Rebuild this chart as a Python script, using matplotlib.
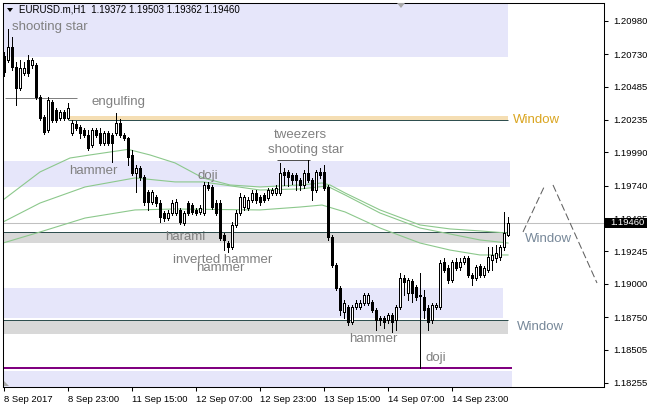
import matplotlib
matplotlib.use('Agg')
import matplotlib.pyplot as plt
from matplotlib.patches import Rectangle, Polygon
from matplotlib.transforms import blended_transform_factory

# ---------------- data (EURUSD H1) ----------------
opens = [
1.20716,1.20686,1.20784,1.20633,1.20475,1.20588,1.20686,1.20649,1.20649,1.20408,
1.20257,1.20159,1.20370,1.20310,1.20249,1.20295,1.20249,1.20137,1.20204,1.20182,
1.20159,1.20121,1.20046,1.20159,1.20137,1.20061,1.20137,1.20121,1.20137,1.20212,
1.20121,1.20099,1.19971,1.19835,1.19873,1.19805,1.19692,1.19617,1.19655,1.19609,
1.19534,1.19496,1.19534,1.19534,1.19557,1.19459,1.19609,1.19594,1.19557,1.19542,
1.19534,1.19745,1.19730,1.19609,1.19609,1.19368,1.19308,1.19278,1.19444,1.19534,
1.19579,1.19572,1.19632,1.19685,1.19655,1.19670,1.19647,1.19685,1.19685,1.19685,
1.19843,1.19843,1.19820,1.19820,1.19783,1.19745,1.19835,1.19783,1.19707,1.19843,
1.19843,1.19730,1.19353,1.19143,1.18969,1.18789,1.18826,1.18713,1.18826,1.18826,
1.18856,1.18856,1.18864,1.18804,1.18743,1.18743,1.18728,1.18766,1.18728,1.18826,
1.19045,1.18932,1.19022,1.18977,1.18917,1.18902,1.18819,1.18728,1.18826,1.18826,
1.19165,1.19120,1.19030,1.19165,1.19127,1.19165,1.19195,1.19067,1.19045,1.19135,
1.19067,1.19105,1.19180,1.19195,1.19203,1.19278,1.19372]
highs = [
1.20746,1.20920,1.20859,1.20671,1.20686,1.20671,1.20724,1.20701,1.20664,1.20423,
1.20272,1.20408,1.20385,1.20325,1.20310,1.20310,1.20362,1.20234,1.20227,1.20197,
1.20174,1.20159,1.20174,1.20174,1.20174,1.20152,1.20152,1.20137,1.20287,1.20242,
1.20137,1.20106,1.20006,1.19896,1.19888,1.19820,1.19707,1.19707,1.19670,1.19632,
1.19549,1.19557,1.19632,1.19640,1.19572,1.19549,1.19624,1.19609,1.19572,1.19594,
1.19768,1.19768,1.19745,1.19632,1.19632,1.19384,1.19323,1.19466,1.19557,1.19685,
1.19670,1.19655,1.19707,1.19707,1.19670,1.19685,1.19722,1.19722,1.19745,1.19911,
1.19873,1.19858,1.19835,1.19835,1.19798,1.19858,1.19933,1.19798,1.19858,1.19873,
1.19896,1.19745,1.19368,1.19158,1.18984,1.18879,1.18841,1.18841,1.18879,1.18879,
1.18932,1.18932,1.18879,1.18819,1.18759,1.18759,1.18781,1.18781,1.18841,1.19082,
1.19067,1.19045,1.19037,1.18992,1.19082,1.18954,1.18841,1.18856,1.18856,1.19180,
1.19195,1.19143,1.19180,1.19195,1.19195,1.19210,1.19210,1.19082,1.19143,1.19150,
1.19135,1.19278,1.19278,1.19293,1.19293,1.19542,1.19503]
lows = [
1.20566,1.20671,1.20611,1.20347,1.20460,1.20573,1.20566,1.20626,1.20393,1.20234,
1.20129,1.20144,1.20219,1.20219,1.20234,1.20234,1.20242,1.20121,1.20159,1.20099,
1.20106,1.20006,1.20031,1.20106,1.20046,1.20046,1.20046,1.19918,1.20121,1.20106,
1.20084,1.19896,1.19820,1.19692,1.19783,1.19594,1.19557,1.19602,1.19587,1.19466,
1.19474,1.19481,1.19519,1.19519,1.19451,1.19444,1.19519,1.19527,1.19519,1.19527,
1.19519,1.19707,1.19564,1.19519,1.19331,1.19255,1.19240,1.19263,1.19429,1.19519,
1.19557,1.19557,1.19617,1.19609,1.19594,1.19617,1.19632,1.19670,1.19670,1.19670,
1.19745,1.19737,1.19752,1.19707,1.19707,1.19722,1.19768,1.19632,1.19692,1.19798,
1.19707,1.19331,1.19127,1.18954,1.18766,1.18743,1.18691,1.18698,1.18811,1.18811,
1.18841,1.18841,1.18789,1.18653,1.18691,1.18668,1.18706,1.18638,1.18653,1.18811,
1.18917,1.18879,1.18864,1.18879,1.18367,1.18743,1.18653,1.18706,1.18811,1.18811,
1.19090,1.19007,1.19015,1.19105,1.19105,1.19150,1.19052,1.18992,1.19030,1.19052,
1.19052,1.19090,1.19105,1.19165,1.19180,1.19255,1.19362]
closes = [
1.20596,1.20784,1.20633,1.20475,1.20626,1.20626,1.20588,1.20686,1.20408,1.20249,
1.20144,1.20385,1.20234,1.20234,1.20295,1.20249,1.20325,1.20212,1.20174,1.20137,
1.20121,1.20024,1.20159,1.20121,1.20061,1.20137,1.20061,1.20061,1.20212,1.20121,
1.20099,1.19956,1.19835,1.19873,1.19805,1.19617,1.19617,1.19692,1.19609,1.19504,
1.19496,1.19534,1.19609,1.19617,1.19466,1.19534,1.19534,1.19542,1.19534,1.19572,
1.19745,1.19722,1.19579,1.19534,1.19346,1.19331,1.19278,1.19444,1.19534,1.19655,
1.19655,1.19632,1.19685,1.19632,1.19617,1.19632,1.19707,1.19707,1.19722,1.19835,
1.19820,1.19805,1.19783,1.19783,1.19745,1.19835,1.19783,1.19707,1.19843,1.19820,
1.19722,1.19353,1.19143,1.18969,1.18804,1.18856,1.18713,1.18826,1.18856,1.18856,
1.18917,1.18917,1.18804,1.18728,1.18728,1.18713,1.18766,1.18713,1.18826,1.19045,
1.19015,1.19030,1.18932,1.18902,1.18909,1.18804,1.18713,1.18841,1.18841,1.19158,
1.19105,1.19030,1.19165,1.19120,1.19165,1.19195,1.19067,1.19045,1.19127,1.19067,
1.19120,1.19203,1.19218,1.19233,1.19278,1.19384,1.19460]

# moving averages (bar index, price)
ma1_x = [-0.25, 9, 16.5, 21.5, 31, 36.5, 42.75, 49.75, 56.5, 64, 74, 79.5, 81.5, 85.25, 94, 104, 111.5, 119, 126]
ma1_y = [1.19632, 1.19843, 1.19948, 1.19971, 1.20013, 1.19971, 1.19911, 1.19798, 1.19745, 1.19730,
         1.19745, 1.19760, 1.19745, 1.19685, 1.19557, 1.19444, 1.19414, 1.19399, 1.19383]
ma2_x = [-0.25, 9, 20.25, 32.75, 42.75, 49.75, 64, 74, 80.75, 85.25, 94, 104, 111.5, 119, 126]
ma2_y = [1.19466, 1.19609, 1.19730, 1.19798, 1.19768, 1.19768, 1.19707, 1.19715, 1.19737, 1.19670,
         1.19534, 1.19421, 1.19376, 1.19331, 1.19308]
ma3_x = [-0.25, 9, 20.25, 32.75, 42.75, 64, 74, 79.5, 85.25, 94, 104, 111.5, 119, 126]
ma3_y = [1.19308, 1.19391, 1.19496, 1.19557, 1.19564, 1.19557, 1.19579, 1.19594, 1.19542, 1.19421,
         1.19308, 1.19255, 1.19218, 1.19218]

tick_bars = [0, 16, 32, 48, 64, 80, 96, 112]
tick_labels = ['8 Sep 2017', '8 Sep 23:00', '11 Sep 15:00', '12 Sep 07:00',
               '12 Sep 23:00', '13 Sep 15:00', '14 Sep 07:00', '14 Sep 23:00']
price_ticks = [1.20980, 1.20730, 1.20485, 1.20235, 1.19990, 1.19740, 1.19495,
               1.19245, 1.19000, 1.18750, 1.18505, 1.18255]

# zones: (bar_start, bar_end, price_low, price_high, kind)
zones = [
    (-1, 126.0, 1.20709, 1.21300, 'lav'),
    (-1, 126.5, 1.19730, 1.19926, 'lav'),
    (-1, 125.5, 1.19308, 1.19391, 'gray'),
    (-1, 124.75, 1.18743, 1.18969, 'lav'),
    (-1, 126.0, 1.18623, 1.18728, 'gray'),
    (-1, 127.0, 1.18100, 1.18344, 'lav'),
    (16, 126.0, 1.20234, 1.20265, 'wheat'),
]
# window / level lines: (bar_start, bar_end, price, color, width)
levels = [
    (16, 126.0, 1.20234, '#2F4F4F', 1.0),
    (-1, 126.0, 1.19391, '#2F4F4F', 1.0),
    (-1, 126.0, 1.18728, '#2F4F4F', 1.0),
    (-1, 127.0, 1.18367, '#800080', 2.0),
    (0.25, 18.25, 1.20400, '#808080', 1.0),
    (68.25, 76.5, 1.19933, '#505050', 1.0),
]
# projection zig-zag (dashed)
proj1_x = [129.75, 135.25]
proj1_y = [1.19391, 1.19745]
proj2_x = [137.25, 148.25]
proj2_y = [1.19745, 1.19007]

# pattern labels: (text, bar_x, price, color)
labels = [
    ('shooting star', 2.0, 1.20935, '#808080'),
    ('engulfing', 22.0, 1.20370, '#808080'),
    ('hammer', 16.25, 1.19850, '#808080'),
    ('doji', 48.5, 1.19813, '#808080'),
    ('tweezers', 67.5, 1.20121, '#808080'),
    ('shooting star', 66.0, 1.20009, '#808080'),
    ('harami', 40.25, 1.19353, '#808080'),
    ('inverted hammer', 42.25, 1.19180, '#808080'),
    ('hammer', 48.0, 1.19120, '#808080'),
    ('hammer', 86.25, 1.18585, '#808080'),
    ('doji', 105.5, 1.18442, '#808080'),
    ('Window', 127.25, 1.20234, '#DAA520'),
    ('Window', 130.25, 1.19338, '#778899'),
    ('Window', 128.25, 1.18676, '#778899'),
]

W, H = 647, 408
fig = plt.figure(figsize=(W / 100, H / 100), dpi=100)
fig.patch.set_facecolor('white')
ax = fig.add_axes([3 / W, (H - 387) / H, 601 / W, 384 / H])
ax.set_facecolor('white')
ax.set_xlim(-0.25, 150)
ax.set_ylim(1.18224, 1.21115)

colors = {'lav': '#E6E6FA', 'gray': '#D8D8D8', 'wheat': '#F5DEB3'}
for x0, x1, p0, p1, k in zones:
    ax.add_patch(Rectangle((x0, p0), x1 - x0, p1 - p0, facecolor=colors[k],
                           edgecolor='none', zorder=0))

# current price line
last = closes[-1]
ax.axhline(last, color='#C0C0C0', lw=0.75, zorder=1)

for x0, x1, p, c, w in levels:
    ax.plot([x0, x1], [p, p], color=c, lw=w * 0.72, zorder=1.5, solid_capstyle='butt')

# moving averages
ma_col = '#8CC88C'
for mx, my in ((ma1_x, ma1_y), (ma2_x, ma2_y), (ma3_x, ma3_y)):
    ax.plot(mx, my, color=ma_col, lw=0.8, zorder=2)

# candles
n = min(len(opens), len(highs), len(lows), len(closes))
bw = 0.5
for i in range(n):
    o, h, l, c = opens[i], highs[i], lows[i], closes[i]
    ax.plot([i, i], [l, h], color='black', lw=0.72, zorder=3, antialiased=False,
            solid_capstyle='butt')
    lo, hi = min(o, c), max(o, c)
    if hi - lo < 0.00006:
        ax.plot([i - bw / 2, i + bw / 2], [c, c], color='black', lw=0.72, zorder=4,
                antialiased=False, solid_capstyle='butt')
    else:
        ax.add_patch(Rectangle((i - bw / 2, lo), bw, hi - lo,
                               facecolor='white' if c >= o else 'black',
                               edgecolor='black', lw=0.6, zorder=4, antialiased=False))

# projection dashed lines
for px, py in ((proj1_x, proj1_y), (proj2_x, proj2_y)):
    ax.plot(px, py, color='#606060', lw=0.75, ls=(0, (7, 3)), zorder=2)

# labels
for t, bx, p, c in labels:
    ax.text(bx, p, t, color=c, fontsize=9.5, family='Liberation Sans',
            ha='left', va='center', zorder=5)

# axes styling
for s in ax.spines.values():
    s.set_color('black')
    s.set_linewidth(0.75)
ax.yaxis.tick_right()
ax.set_yticks(price_ticks)
ax.set_yticklabels(['%.5f' % p for p in price_ticks])
ax.set_xticks(tick_bars)
ax.set_xticklabels(tick_labels)
ax.tick_params(axis='y', which='both', length=3, width=0.75, pad=4, labelsize=6.8,
               colors='black', left=False, right=True)
ax.tick_params(axis='x', which='both', length=3, width=0.75, pad=2.5, labelsize=6.8,
               colors='black', top=False, bottom=True)
for lbl in ax.get_xticklabels():
    lbl.set_ha('left')
    lbl.set_family('Liberation Sans')
for lbl in ax.get_yticklabels():
    lbl.set_family('Liberation Sans')

# current price box on the axis
bt = blended_transform_factory(fig.transFigure, ax.transData)
half = 5 * (ax.get_ylim()[1] - ax.get_ylim()[0]) / 384
ax.add_patch(Rectangle((605 / W, last - half), 42 / W, 2 * half, transform=bt,
                       facecolor='black', edgecolor='none', clip_on=False, zorder=10))
ax.text(610 / W, last, '%.5f' % last, transform=bt, color='white', fontsize=6.8,
        family='Liberation Sans', ha='left', va='center', clip_on=False, zorder=11)

# header
fig.patches.append(Polygon([(7 / W, 1 - 8 / H), (13 / W, 1 - 8 / H), (10 / W, 1 - 12 / H)],
                           closed=True, transform=fig.transFigure, facecolor='black',
                           edgecolor='none', zorder=20))
fig.text(19 / W, 1 - 10 / H,
         'EURUSD.m,H1  %.5f %.5f %.5f %.5f' % (opens[-1], highs[-1], lows[-1], closes[-1]),
         fontsize=7, family='Liberation Sans', color='black', va='center', ha='left', zorder=20)
fig.patches.append(Polygon([(397 / W, 1 - 3 / H), (405 / W, 1 - 3 / H), (401 / W, 1 - 8 / H)],
                           closed=True, transform=fig.transFigure, facecolor='#A8A8A8',
                           edgecolor='none', zorder=20))
fig.patches.append(Polygon([(4 / W, 1 - 381 / H), (4 / W, 1 - 386 / H), (9 / W, 1 - 386 / H)],
                           closed=True, transform=fig.transFigure, facecolor='#A8A8A8',
                           edgecolor='none', zorder=20))

fig.savefig('out.png', dpi=100, facecolor='white')
